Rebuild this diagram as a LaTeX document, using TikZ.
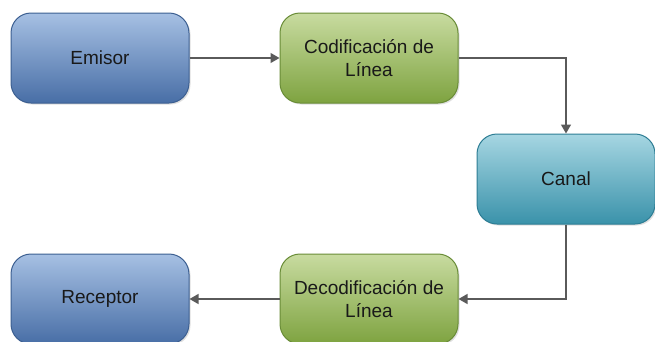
\documentclass[tikz,border=0pt]{standalone}
\usepackage{fontspec}
\setmainfont{Liberation Sans}
\usepackage{tikz}
\usetikzlibrary{arrows.meta,positioning,shadows}

\definecolor{azularriba}{RGB}{166,192,227}
\definecolor{azulabajo}{RGB}{72,110,166}
\definecolor{azulborde}{RGB}{60,95,145}
\definecolor{verdearriba}{RGB}{200,219,160}
\definecolor{verdeabajo}{RGB}{126,163,64}
\definecolor{verdeborde}{RGB}{105,140,55}
\definecolor{cianarriba}{RGB}{166,214,226}
\definecolor{cianabajo}{RGB}{58,146,170}
\definecolor{cianborde}{RGB}{45,125,148}
\definecolor{flecha}{RGB}{90,90,90}

\begin{document}
\begin{tikzpicture}[>={Triangle[width=10pt,length=9pt]},
                    node distance=88pt]

  \tikzstyle{bloque}=[rectangle,rounded corners=20pt,align=center,
                      minimum width=178pt,minimum height=90pt,
                      font=\fontsize{19}{23}\selectfont,text=black!90,
                      line width=1pt,
                      drop shadow={opacity=0.25,shadow xshift=1.5pt,shadow yshift=-1.5pt}]
  \tikzstyle{azul}=[bloque,draw=azulborde,top color=azularriba,bottom color=azulabajo]
  \tikzstyle{verde}=[bloque,draw=verdeborde,top color=verdearriba,bottom color=verdeabajo]
  \tikzstyle{cian}=[bloque,draw=cianborde,top color=cianarriba,bottom color=cianabajo]
  \tikzstyle{conector}=[->,draw=flecha,line width=1.3pt]

  \useasboundingbox (0,0) rectangle (655pt,-341pt);

  \node[azul]  (EMI) at (100pt,-58pt)              {Emisor};
  \node[verde] (COD) [right=90pt of EMI]           {Codificación de \\ Línea};
  \node[cian]  (CAN) [below right=30pt and 18pt of COD] {Canal};
  \node[verde] (DEC) [below=150pt of COD]          {Decodificación de \\ Línea};
  \node[azul]  (REC) [left=90pt of DEC]            {Receptor};

  \draw[conector] (EMI) -- (COD);
  \draw[conector] (COD.east) -| (CAN.north);
  \draw[conector] (CAN.south) |- (DEC.east);
  \draw[conector] (DEC) -- (REC);
\end{tikzpicture}
\end{document}
